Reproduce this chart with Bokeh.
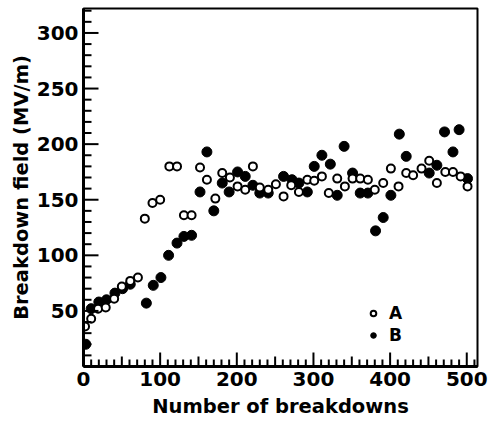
import numpy as np
from bokeh.plotting import figure
from bokeh.models import FixedTicker, Range1d, Legend, LegendItem
from bokeh.embed import file_html
from bokeh.resources import INLINE

# Series A (open circles)
A_x = [2, 10, 19, 29, 40, 50, 61, 71, 80, 90, 100, 112, 122, 131, 141, 152, 161, 172, 181, 191,
       201, 211, 221, 230, 241, 251, 261, 271, 281, 292, 301, 311, 320, 331, 341, 351, 361, 371,
       380, 391, 401, 411, 421, 430, 441, 451, 461, 472, 482, 492, 501]
A_y = [36, 43, 52, 53, 61, 72, 77, 80, 133, 147, 150, 180, 180, 136, 136, 179, 168, 151, 174, 170,
       162, 159, 180, 161, 159, 164, 153, 163, 157, 168, 167, 171, 156, 169, 162, 169, 169, 168,
       159, 165, 178, 162, 174, 172, 178, 185, 165, 175, 175, 171, 162]

# Series B (filled circles)
B_x = [3, 10, 20, 30, 41, 51, 61, 82, 91, 101, 111, 122, 131, 141, 152, 161, 170, 181, 190,
       201, 211, 221, 230, 241, 261, 272, 281, 292, 301, 311, 322, 331, 340, 351, 361, 371,
       381, 391, 401, 412, 421, 451, 461, 471, 482, 490, 501]
B_y = [20, 52, 58, 60, 66, 70, 74, 57, 73, 80, 100, 111, 117, 118, 157, 193, 140, 165, 157,
       175, 171, 163, 156, 156, 171, 168, 165, 157, 180, 190, 182, 154, 198, 174, 156, 156,
       122, 134, 154, 209, 189, 174, 181, 211, 193, 213, 169]

# Tick values
x_labeled = [0, 100, 200, 300, 400, 500]
x_mid = [50, 150, 250, 350, 450]
x_minor = [v for v in range(10, 520, 10) if v % 50 != 0]
y_labeled = [50, 100, 150, 200, 250, 300]
y_minor = [v for v in range(10, 330, 10) if v % 50 != 0]

X_MAX, Y_MAX = 514, 322
W, H = 488, 424
BL, BR, BT, BB = 83, 11, 8, 58
FONT = "DejaVu Sans"

p = figure(width=W, height=H, output_backend="svg", toolbar_location=None,
           x_range=Range1d(0, X_MAX), y_range=Range1d(0, Y_MAX),
           min_border_left=BL, min_border_right=BR, min_border_top=BT, min_border_bottom=BB)
p.grid.visible = False
p.background_fill_color = "white"
p.border_fill_color = "white"
p.outline_line_color = "black"
p.outline_line_width = 2
p.outline_line_alpha = 1.0

rb = p.scatter(B_x, B_y, size=10, marker="circle", fill_color="black", line_color="black")
ra = p.scatter(A_x, A_y, size=8, marker="circle", fill_color="white", line_color="black", line_width=2)

# inward ticks as short segments inside the frame (pixel lengths converted to data units)
fx = X_MAX / (W - BL - BR)
fy = Y_MAX / (H - BT - BB)
seg_kw = dict(line_color="black", line_width=2, level="overlay")
p.segment(x0=x_labeled[1:], y0=[0] * 5, x1=x_labeled[1:], y1=[14 * fy] * 5, **seg_kw)
p.segment(x0=x_mid, y0=[0] * len(x_mid), x1=x_mid, y1=[10 * fy] * len(x_mid), **seg_kw)
p.segment(x0=x_minor, y0=[0] * len(x_minor), x1=x_minor, y1=[7 * fy] * len(x_minor), **seg_kw)
p.segment(x0=[0] * len(y_labeled), y0=y_labeled, x1=[15 * fx] * len(y_labeled), y1=y_labeled, **seg_kw)
p.segment(x0=[0] * len(y_minor), y0=y_minor, x1=[8 * fx] * len(y_minor), y1=y_minor, **seg_kw)

xa = p.xaxis[0]
xa.ticker = FixedTicker(ticks=x_labeled, minor_ticks=[])
xa.axis_label = "Number of breakdowns"

ya = p.yaxis[0]
ya.ticker = FixedTicker(ticks=y_labeled, minor_ticks=[])
ya.axis_label = "Breakdown field (MV/m)"

for ax in (xa, ya):
    ax.axis_line_width = 3
    ax.axis_line_color = "black"
    ax.major_tick_out = 0
    ax.minor_tick_out = 0
    ax.major_tick_in = 0
    ax.minor_tick_in = 0
    ax.major_tick_line_color = None
    ax.minor_tick_line_color = None
    ax.major_label_text_font = FONT
    ax.major_label_text_font_style = "bold"
    ax.major_label_text_font_size = "20px"
    ax.major_label_text_color = "black"
    ax.axis_label_text_font = FONT
    ax.axis_label_text_font_style = "bold"
    ax.axis_label_text_font_size = "19.5px"
    ax.axis_label_text_color = "black"
xa.major_label_standoff = 5
xa.axis_label_standoff = 6
ya.major_label_standoff = 5
ya.axis_label_standoff = 1

legend = Legend(items=[LegendItem(label="A", renderers=[ra]),
                       LegendItem(label="B", renderers=[rb])],
                location=(283, 21), padding=0, margin=0, spacing=2,
                glyph_width=14, glyph_height=18, label_standoff=9,
                label_text_font=FONT, label_text_font_style="bold",
                label_text_font_size="17px", label_height=18,
                label_text_color="black",
                border_line_alpha=0, background_fill_alpha=0)
p.add_layout(legend)

open("out.html", "w").write(file_html(p, INLINE))
